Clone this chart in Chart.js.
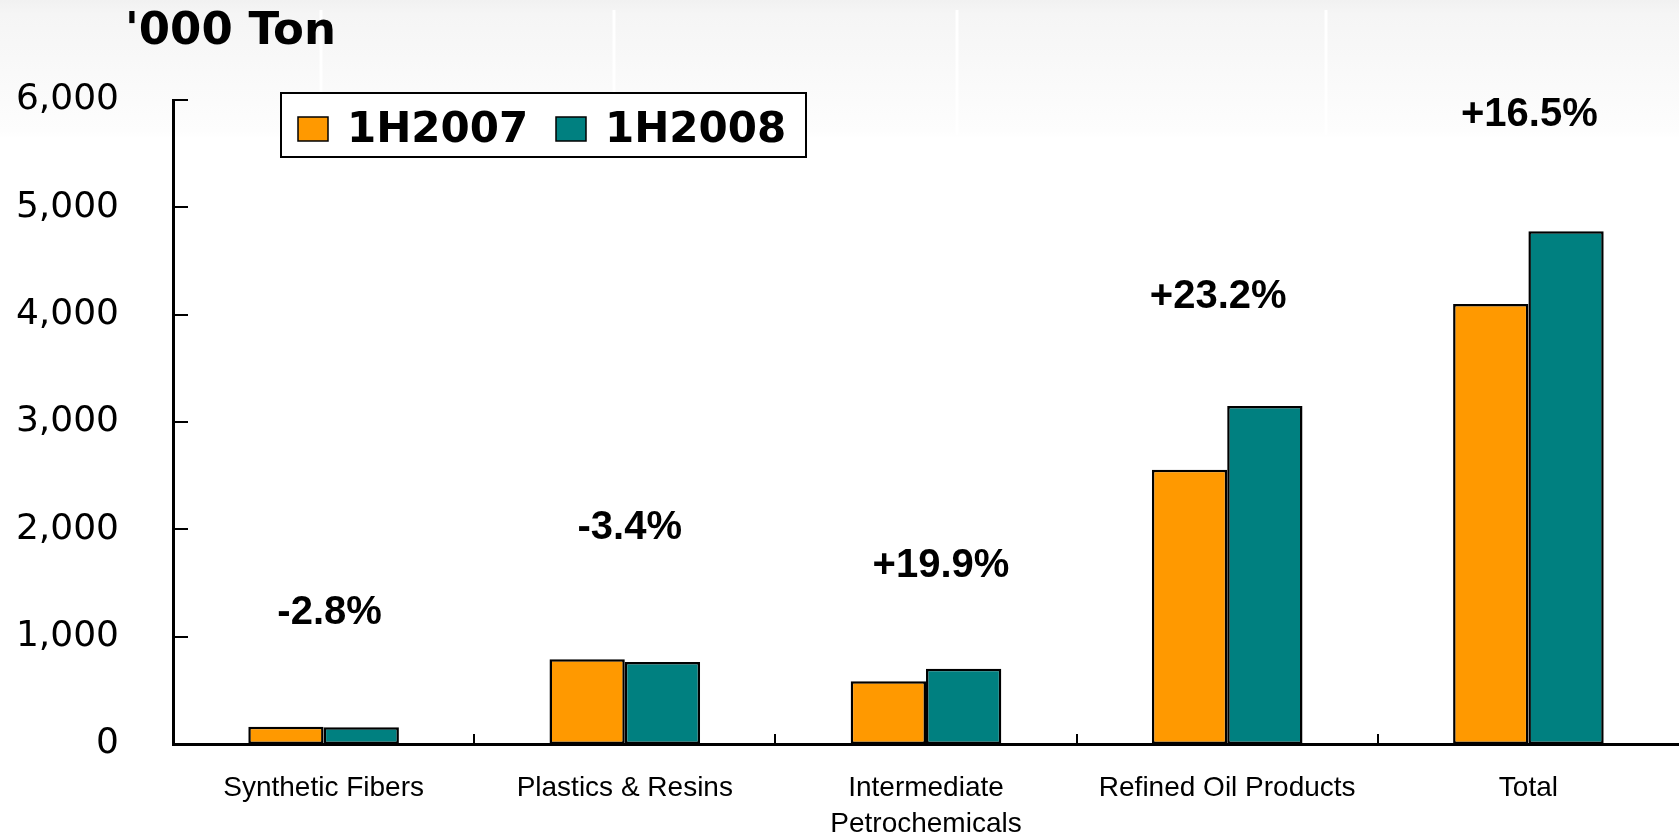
<!DOCTYPE html>
<html>
<head>
<meta charset="utf-8">
<title>Sales volume 1H2007 vs 1H2008</title>
<script src="https://cdn.jsdelivr.net/npm/chart.js@4.4.1/dist/chart.umd.min.js"></script>
<style>
  html, body { margin: 0; padding: 0; background: #ffffff; }
  #wrap { position: relative; width: 1679px; height: 836px; }
</style>
</head>
<body>
<div id="wrap"><canvas id="volumeChart"></canvas></div>
<script>
// setup
const categories = ['Synthetic Fibers', 'Plastics & Resins', ['Intermediate', 'Petrochemicals'], 'Refined Oil Products', 'Total'];
const volume2007 = [160, 790, 585, 2555, 4100];
const volume2008 = [155.5, 763, 701.5, 3148, 4776.5];
const changeLabels = ['-2.8%', '-3.4%', '+19.9%', '+23.2%', '+16.5%'];
// height (in '000 ton) where each change label sits, and its nudge off the group centre
const changeLabelAt = [1220, 2010, 1655, 4165, 5860];
const changeLabelShift = [6, 5, 15, -9, 1];
const yTicks = [0, 1000, 2000, 3000, 4000, 5000, 6000];

Chart.defaults.font.family = "'Liberation Sans', Arial, sans-serif";
Chart.defaults.color = '#000';

const data = {
  labels: categories,
  datasets: [{
    label: '1H2007',
    data: volume2007,
    backgroundColor: '#FF9900',
    borderColor: '#000',
    borderWidth: 2.5,
    borderSkipped: false,
    categoryPercentage: 0.5,
    barPercentage: 1
  }, {
    label: '1H2008',
    data: volume2008,
    backgroundColor: '#008080',
    borderColor: '#000',
    borderWidth: 2.5,
    borderSkipped: false,
    categoryPercentage: 0.5,
    barPercentage: 1
  }]
};

// slide backdrop, inward tick marks, change labels, boxed legend and unit title
const decorations = {
  id: 'decorations',
  beforeDraw(chart) {
    const ctx = chart.ctx;
    ctx.save();
    const g = ctx.createLinearGradient(0, 0, 0, 138);
    g.addColorStop(0, '#f1f1f1');
    g.addColorStop(0.1, '#f5f5f5');
    g.addColorStop(0.95, '#fdfdfd');
    g.addColorStop(1, '#ffffff');
    ctx.fillStyle = g;
    ctx.fillRect(0, 0, chart.width, 138);
    ctx.strokeStyle = '#ffffff';
    ctx.lineWidth = 3;
    [321, 614, 957, 1326].forEach(px => {
      ctx.beginPath();
      ctx.moveTo(px, 10);
      ctx.lineTo(px, 135);
      ctx.stroke();
    });
    ctx.restore();
  },
  afterDatasetsDraw(chart) {
    const ctx = chart.ctx;
    const x = chart.scales.x, y = chart.scales.y;
    const area = chart.chartArea;
    ctx.save();

    // tick marks pointing into the plot
    ctx.strokeStyle = '#000';
    ctx.lineWidth = 2;
    for (let i = 1; i < categories.length; i++) {
      const px = Math.round(x.getPixelForValue(i - 0.5));
      ctx.beginPath();
      ctx.moveTo(px, area.bottom);
      ctx.lineTo(px, area.bottom - 10);
      ctx.stroke();
    }
    yTicks.forEach(v => {
      const py = Math.round(y.getPixelForValue(v));
      ctx.beginPath();
      ctx.moveTo(area.left, py);
      ctx.lineTo(area.left + 15, py);
      ctx.stroke();
    });

    // growth labels
    ctx.fillStyle = '#000';
    ctx.font = "bold 40px 'Liberation Sans', Arial, sans-serif";
    ctx.textAlign = 'center';
    ctx.textBaseline = 'middle';
    changeLabels.forEach((t, i) => {
      ctx.fillText(t, x.getPixelForValue(i) + changeLabelShift[i], y.getPixelForValue(changeLabelAt[i]));
    });

    // legend box
    ctx.fillStyle = '#ffffff';
    ctx.fillRect(281, 93, 525, 64);
    ctx.lineWidth = 2;
    ctx.strokeStyle = '#000';
    ctx.strokeRect(281, 93, 525, 64);
    const slots = [298, 556];
    ctx.font = "bold 42px 'DejaVu Sans', sans-serif";
    ctx.textAlign = 'left';
    ctx.textBaseline = 'alphabetic';
    chart.data.datasets.forEach((ds, i) => {
      const sx = slots[i];
      ctx.fillStyle = ds.backgroundColor;
      ctx.fillRect(sx, 117, 30, 24);
      ctx.lineWidth = 1.5;
      ctx.strokeRect(sx, 117, 30, 24);
      ctx.fillStyle = '#000';
      ctx.fillText(ds.label, sx + 49, 142);
    });

    // unit title
    ctx.font = "bold 45px 'DejaVu Sans', sans-serif";
    ctx.fillText("'000 Ton", 125, 44);
    ctx.restore();
  }
};

// config
const config = {
  type: 'bar',
  data,
  options: {
    responsive: true,
    maintainAspectRatio: false,
    animation: false,
    layout: { padding: { top: 100, left: 0, right: 0, bottom: 0 } },
    plugins: {
      legend: { display: false },
      tooltip: { enabled: false }
    },
    scales: {
      x: {
        grid: { display: false },
        border: { display: true, color: '#000', width: 3 },
        ticks: {
          autoSkip: false,
          maxRotation: 0,
          padding: 18,
          font: { size: 28, lineHeight: 1.3 },
          color: '#000'
        },
        afterFit(scale) { scale.height = 92; }
      },
      y: {
        min: 0,
        max: 6000,
        grid: { display: false },
        border: { display: true, color: '#000', width: 3 },
        afterBuildTicks(scale) { scale.ticks = yTicks.map(v => ({ value: v })); },
        ticks: {
          padding: 46,
          font: { family: "'DejaVu Sans', sans-serif", size: 36 },
          color: '#000',
          callback: v => v.toLocaleString('en-US')
        },
        afterFit(scale) { scale.width = 173; }
      }
    }
  },
  plugins: [decorations]
};

// render init block
const volumeChart = new Chart(
  document.getElementById('volumeChart'),
  config
);
</script>
</body>
</html>
